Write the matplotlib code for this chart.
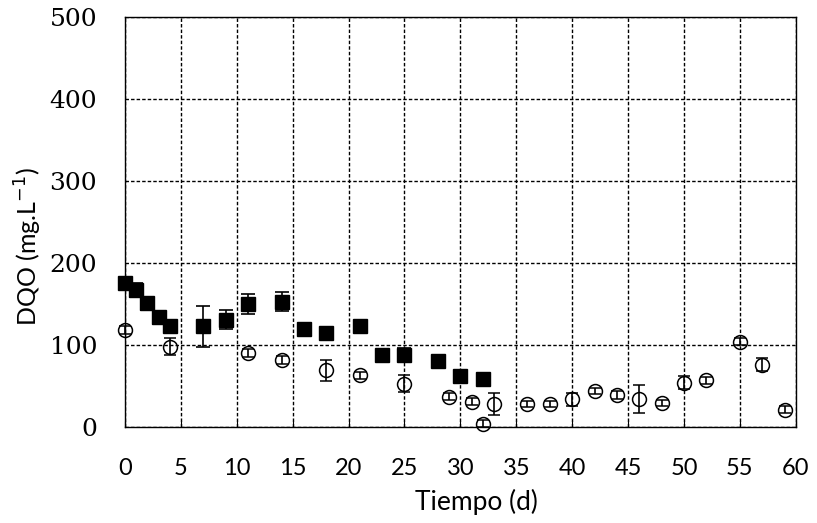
import matplotlib
matplotlib.use("Agg")
import matplotlib.pyplot as plt

# Data
sq_days = [0, 1, 2, 3, 4, 7, 9, 11, 14, 16, 18, 21, 23, 25, 28, 30, 32]
sq_dqo = [175, 167, 151, 134, 123, 123, 131, 150, 153, 119, 114, 123, 88, 88, 80, 62, 58]
sq_err = [5, 8, 8, 8, 5, 25, 12, 12, 11, 6, 4, 4, 6, 8, 3, 3, 3]

ci_days = [0, 4, 11, 14, 18, 21, 25, 29, 31, 32, 33, 36, 38, 40, 42, 44, 46, 48, 50, 52, 55, 57, 59]
ci_dqo = [118, 98, 90, 82, 69, 63, 53, 37, 31, 4, 28, 28, 28, 34, 44, 39, 34, 29, 54, 57, 104, 76, 21]
ci_err = [5, 10, 5, 5, 13, 4, 10, 4, 4, 4, 13, 4, 4, 8, 4, 5, 17, 4, 8, 4, 4, 8, 4]

x_ticks = list(range(0, 61, 5))
y_ticks = [0, 100, 200, 300, 400, 500]

fig = plt.figure(figsize=(8.17, 5.23), dpi=100)
ax = fig.add_axes([0.153, 0.1836, 0.821, 0.784])

ax.errorbar(sq_days, sq_dqo, yerr=sq_err, fmt='s', color='black', ms=10,
            mfc='black', mec='black', ecolor='black', elinewidth=1.2, capsize=5,
            capthick=1.2, zorder=3, clip_on=False)
ax.errorbar(ci_days, ci_dqo, yerr=ci_err, fmt='o', color='black', ms=10,
            mfc='none', mec='black', mew=1.1, ecolor='black', elinewidth=1.2, capsize=4.5,
            capthick=1.2, zorder=4, clip_on=False)

ax.set_xlim(0, 60)
ax.set_ylim(0, 500)
ax.set_xticks(x_ticks)
ax.set_yticks(y_ticks)
ax.grid(True, color='black', linestyle=(0, (2.5, 1.5)), linewidth=1.0)
ax.set_axisbelow(True)
for s in ax.spines.values():
    s.set_color('black')
    s.set_linewidth(1.0)

ax.tick_params(axis='x', direction='in', length=4, pad=22)
ax.tick_params(axis='y', direction='in', length=0, pad=20)
for lab in ax.get_xticklabels():
    lab.set_fontfamily(['Lato', 'DejaVu Sans'])
    lab.set_fontsize(17)
for lab in ax.get_yticklabels():
    lab.set_fontfamily(['DejaVu Serif'])
    lab.set_fontsize(18)

ax.set_xlabel('Tiempo (d)', fontsize=19, family=['Lato', 'DejaVu Sans'], va='top')
ax.xaxis.set_label_coords(0.524, -0.152)
ax.set_ylabel('DQO (mg.L$^{-1}$)', fontsize=18, family=['Lato', 'DejaVu Sans'])
ax.yaxis.set_label_coords(-0.121, 0.44)

fig.savefig('out.png', dpi=100)
